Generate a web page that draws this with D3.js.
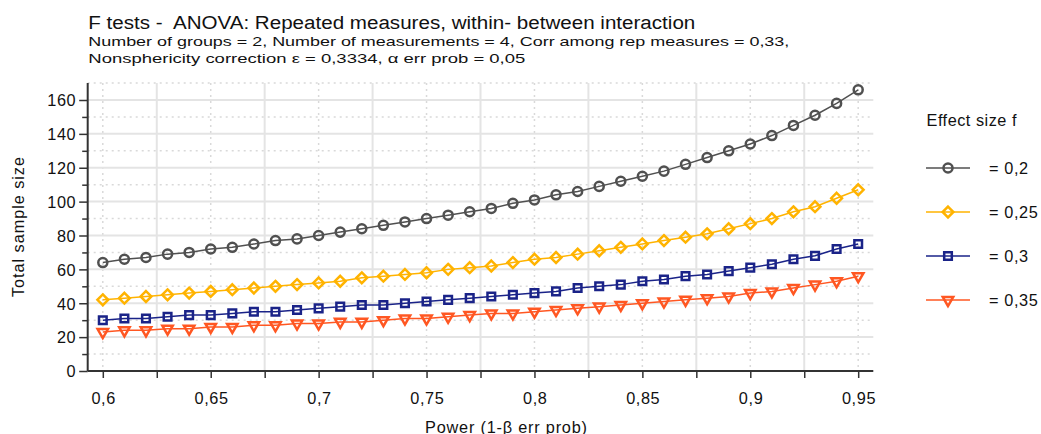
<!DOCTYPE html>
<html>
<head>
<meta charset="utf-8">
<script src="https://cdn.jsdelivr.net/npm/d3@7"></script>
<style>
  html, body { margin: 0; padding: 0; background: #fff; }
  svg { display: block; }
  text { font-family: "Liberation Sans", Arial, sans-serif; fill: #111; white-space: pre; }
</style>
</head>
<body>
<svg id="chart" width="1041" height="434"></svg>
<script>
// Power values on the x axis (1 - beta)
const power = [0.60, 0.61, 0.62, 0.63, 0.64, 0.65, 0.66, 0.67, 0.68, 0.69,
               0.70, 0.71, 0.72, 0.73, 0.74, 0.75, 0.76, 0.77, 0.78, 0.79,
               0.80, 0.81, 0.82, 0.83, 0.84, 0.85, 0.86, 0.87, 0.88, 0.89,
               0.90, 0.91, 0.92, 0.93, 0.94, 0.95];

// Total sample size per effect size f
const nF020 = [64, 66, 67, 69, 70, 72, 73, 75, 77, 78,
               80, 82, 84, 86, 88, 90, 92, 94, 96, 99,
               101, 104, 106, 109, 112, 115, 118, 122, 126, 130,
               134, 139, 145, 151, 158, 166];
const nF025 = [42, 43, 44, 45, 46, 47, 48, 49, 50, 51,
               52, 53, 55, 56, 57, 58, 60, 61, 62, 64,
               66, 67, 69, 71, 73, 75, 77, 79, 81, 84,
               87, 90, 94, 97, 102, 107];
const nF030 = [30, 31, 31, 32, 33, 33, 34, 35, 35, 36,
               37, 38, 39, 39, 40, 41, 42, 43, 44, 45,
               46, 47, 49, 50, 51, 53, 54, 56, 57, 59,
               61, 63, 66, 68, 72, 75];
const nF035 = [23, 24, 24, 25, 25, 26, 26, 27, 27, 28,
               28, 29, 29, 30, 31, 31, 32, 33, 34, 34,
               35, 36, 37, 38, 39, 40, 41, 42, 43, 44,
               46, 47, 49, 51, 53, 56];

const seriesNames = ["= 0,2", "= 0,25", "= 0,3", "= 0,35"];
const seriesValues = [nF020, nF025, nF030, nF035];
const seriesColors = ["#505050", "#FFB300", "#1A2388", "#FF5722"];
const seriesSymbols = [d3.symbolCircle, d3.symbolDiamond2, d3.symbolSquare2, d3.symbolTriangle2];

const xTicks = d3.range(0, 15).map(i => +(0.6 + i * 0.025).toFixed(3));
const xLabelTicks = [0.6, 0.65, 0.7, 0.75, 0.8, 0.85, 0.9, 0.95];
const xTickLabels = ["0,6", "0,65", "0,7", "0,75", "0,8", "0,85", "0,9", "0,95"];
const yMajorTicks = [0, 20, 40, 60, 80, 100, 120, 140, 160];
const yMinorTicks = [10, 30, 50, 70, 90, 110, 130, 150, 170];

const titleText = "F tests -  ANOVA: Repeated measures, within- between interaction";
const subtitle1 = "Number of groups = 2, Number of measurements = 4, Corr among rep measures = 0,33,";
const subtitle2 = "Nonsphericity correction \u03b5 = 0,3334, \u03b1 err prob = 0,05";
const xAxisTitle = "Power (1-\u03b2 err prob)";
const yAxisTitle = "Total sample size";
const legendTitle = "Effect size f";

const svg = d3.select("#chart");

const x = d3.scaleLinear().domain([0.593, 0.957]).range([87.7, 873.3]);
const y = d3.scaleLinear().domain([0, 170]).range([371, 83.06]);

const plotTop = y(170), plotBottom = y(0), plotLeft = x.range()[0], plotRight = x.range()[1];
const labelFont = "16.3px";
const labelSpacing = "0.6px";

// Grid: solid lines on in-between x ticks and on labelled y ticks, dotted elsewhere
const grid = svg.append("g");
xTicks.forEach(t => {
  const labelled = xLabelTicks.some(v => Math.abs(v - t) < 1e-6);
  grid.append("line")
    .attr("x1", x(t)).attr("x2", x(t))
    .attr("y1", plotTop).attr("y2", plotBottom)
    .attr("stroke", labelled ? "#d9d9d9" : "#e4e4e4")
    .attr("stroke-width", labelled ? 1.5 : 2)
    .attr("stroke-dasharray", labelled ? "2,4" : null);
});
yMajorTicks.filter(t => t > 0).forEach(t => {
  grid.append("line")
    .attr("x1", plotLeft).attr("x2", plotRight)
    .attr("y1", y(t)).attr("y2", y(t))
    .attr("stroke", "#e4e4e4").attr("stroke-width", 2);
});
yMinorTicks.forEach(t => {
  grid.append("line")
    .attr("x1", plotLeft).attr("x2", plotRight)
    .attr("y1", y(t)).attr("y2", y(t))
    .attr("stroke", "#d9d9d9").attr("stroke-width", 1.5)
    .attr("stroke-dasharray", "2,4");
});

// Axes
const xAxis = d3.axisBottom(x)
  .tickValues(xTicks)
  .tickSize(7)
  .tickFormat(d => {
    const i = xLabelTicks.findIndex(v => Math.abs(v - d) < 1e-6);
    return i >= 0 ? xTickLabels[i] : "";
  });
const gx = svg.append("g").attr("transform", `translate(0,${plotBottom})`).call(xAxis);
gx.select(".domain").attr("d", `M${plotLeft},0H${plotRight}`).attr("stroke", "#333").attr("stroke-width", 2);
gx.selectAll(".tick line").attr("stroke", "#333").attr("stroke-width", 1.5);
gx.selectAll(".tick text").attr("dy", 0).attr("y", 32.5).attr("dx", "0.3px")
  .style("font-size", labelFont).style("letter-spacing", labelSpacing)
  .style("font-family", "Liberation Sans, Arial, sans-serif").attr("fill", "#111");

const yAxis = d3.axisLeft(y).tickValues(yMajorTicks).tickSize(8.5).tickPadding(3).tickFormat(d3.format("d"));
const gy = svg.append("g").attr("transform", `translate(${plotLeft},0)`).call(yAxis);
gy.select(".domain").attr("d", `M0,${plotTop}V${plotBottom}`).attr("stroke", "#333").attr("stroke-width", 2);
gy.selectAll(".tick line").attr("stroke", "#333").attr("stroke-width", 1.5);
gy.selectAll(".tick text").attr("dy", "0.36em")
  .style("font-size", labelFont).style("letter-spacing", labelSpacing)
  .style("font-family", "Liberation Sans, Arial, sans-serif").attr("fill", "#111");
const gyMinor = svg.append("g").attr("transform", `translate(${plotLeft},0)`)
  .call(d3.axisLeft(y).tickValues(yMinorTicks.filter(t => t < 170)).tickSize(5.5).tickFormat(""));
gyMinor.select(".domain").remove();
gyMinor.selectAll(".tick line").attr("stroke", "#333").attr("stroke-width", 1.5);

// Series lines and markers
const line = d3.line().x((d, i) => x(power[i])).y(d => y(d));
const markerSize = s => (s === 0 ? 64 : s === 3 ? 78 : 74);
seriesValues.forEach((vals, s) => {
  const g = svg.append("g");
  g.append("path").datum(vals)
    .attr("d", line)
    .attr("fill", "none")
    .attr("stroke", seriesColors[s])
    .attr("stroke-width", 1.5);
  const sym = d3.symbol().type(seriesSymbols[s]).size(markerSize(s));
  g.selectAll("path.mk").data(vals).join("path")
    .attr("class", "mk")
    .attr("transform", (d, i) => `translate(${x(power[i])},${y(d)})` + (s === 3 ? " rotate(180)" : ""))
    .attr("d", sym)
    .attr("fill", "none")
    .attr("stroke", seriesColors[s])
    .attr("stroke-width", 2.5);
});

// Titles
svg.append("text").attr("x", 88.3).attr("y", 29.3)
  .attr("textLength", 607).attr("lengthAdjust", "spacingAndGlyphs")
  .style("font-size", "18px").text(titleText);
svg.append("text").attr("x", 88.3).attr("y", 46)
  .attr("textLength", 701).attr("lengthAdjust", "spacingAndGlyphs")
  .style("font-size", "13.5px").text(subtitle1);
svg.append("text").attr("x", 88.3).attr("y", 62.7)
  .attr("textLength", 437).attr("lengthAdjust", "spacingAndGlyphs")
  .style("font-size", "13.5px").text(subtitle2);

// Axis titles
svg.append("text").attr("x", 425).attr("y", 432.5)
  .attr("textLength", 162).attr("lengthAdjust", "spacing")
  .style("font-size", labelFont).text(xAxisTitle);
svg.append("text")
  .attr("transform", "translate(24,297) rotate(-90)")
  .attr("textLength", 140).attr("lengthAdjust", "spacing")
  .style("font-size", labelFont).text(yAxisTitle);

// Legend
const legend = svg.append("g");
legend.append("text").attr("x", 926.5).attr("y", 125.5)
  .attr("textLength", 90).attr("lengthAdjust", "spacing")
  .style("font-size", labelFont).text(legendTitle);
const legendY = [168, 212, 256, 300];
seriesNames.forEach((name, s) => {
  const ly = legendY[s];
  legend.append("line").attr("x1", 926).attr("x2", 970).attr("y1", ly).attr("y2", ly)
    .attr("stroke", seriesColors[s]).attr("stroke-width", 1.5);
  legend.append("path")
    .attr("transform", `translate(948,${ly})` + (s === 3 ? " rotate(180)" : ""))
    .attr("d", d3.symbol().type(seriesSymbols[s]).size(markerSize(s))())
    .attr("fill", "none").attr("stroke", seriesColors[s]).attr("stroke-width", 2.5);
  legend.append("text").attr("x", 989).attr("y", ly + 5.8)
    .style("font-size", labelFont).style("letter-spacing", labelSpacing).text(name);
});
</script>
</body>
</html>
